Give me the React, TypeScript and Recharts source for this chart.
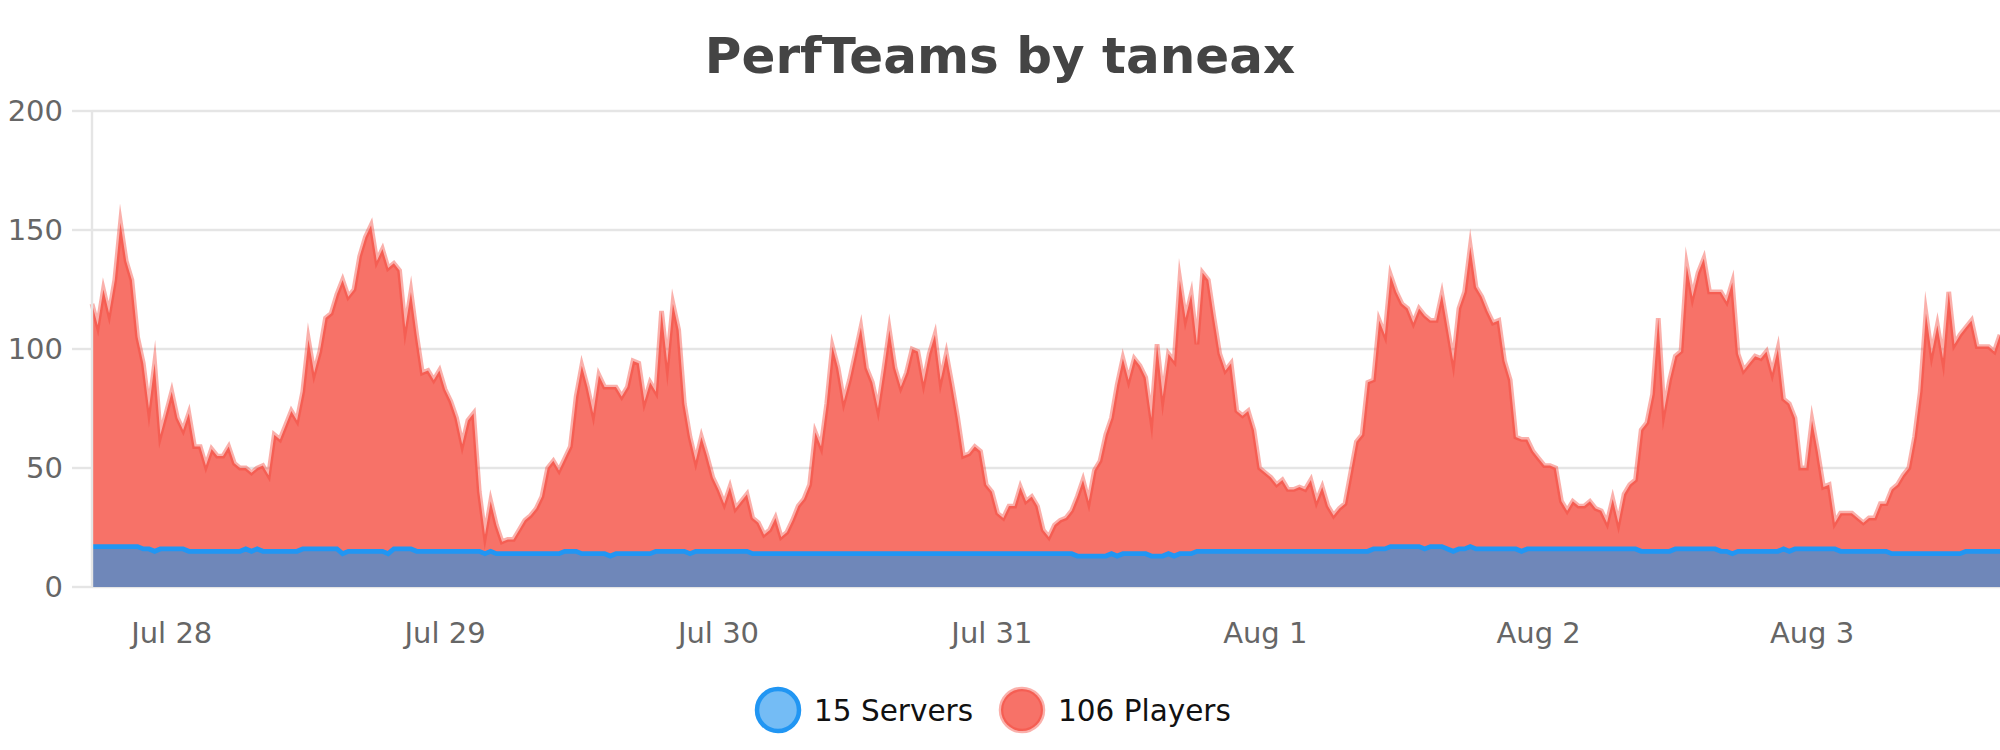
import { AreaChart, Area, XAxis, YAxis, CartesianGrid } from 'recharts';

// half-hour samples, the first one is Jul 27 17:00
const players = [
  119, 110, 125, 115, 129, 153, 137, 129, 105, 94, 75, 94,
  64, 73, 82, 71, 66, 73, 59, 59, 51, 58, 55, 55,
  59, 52, 50, 50, 48, 50, 51, 47, 64, 62, 68, 74,
  70, 82, 104, 90, 99, 113, 115, 123, 129, 122, 125, 139,
  147, 152, 137, 142, 134, 136, 133, 109, 124, 106, 90, 91,
  87, 91, 83, 78, 71, 60, 70, 73, 40, 22, 36, 26,
  19, 20, 20, 24, 28, 30, 33, 38, 50, 53, 49, 54,
  59, 80, 93, 84, 73, 89, 84, 84, 84, 80, 84, 95,
  94, 78, 86, 82, 116, 94, 119, 108, 77, 63, 53, 63,
  55, 46, 41, 35, 42, 33, 36, 39, 29, 27, 22, 24,
  29, 21, 23, 28, 34, 37, 43, 65, 59, 77, 101, 92,
  78, 87, 98, 109, 92, 86, 75, 91, 108, 92, 84, 90,
  100, 99, 86, 98, 106, 87, 98, 85, 71, 55, 56, 59,
  57, 43, 40, 31, 29, 34, 34, 42, 36, 38, 34, 24,
  21, 26, 28, 29, 32, 38, 45, 36, 49, 53, 64, 71,
  85, 96, 87, 96, 93, 88, 71, 102, 80, 98, 95, 129,
  113, 123, 102, 132, 129, 113, 98, 91, 94, 74, 72, 74,
  66, 50, 48, 46, 43, 45, 41, 41, 42, 41, 45, 36,
  42, 34, 30, 33, 35, 48, 61, 64, 86, 87, 112, 106,
  131, 124, 119, 117, 111, 117, 114, 112, 112, 123, 109, 95,
  117, 124, 143, 126, 122, 116, 111, 112, 95, 87, 63, 62,
  62, 57, 54, 51, 51, 50, 36, 32, 36, 34, 34, 36,
  33, 32, 27, 37, 27, 39, 43, 45, 66, 69, 81, 113,
  74, 87, 97, 99, 135, 122, 132, 138, 124, 124, 124, 120,
  128, 98, 91, 94, 97, 96, 99, 90, 100, 79, 77, 71,
  50, 50, 70, 57, 42, 43, 27, 31, 31, 31, 29, 27,
  29, 29, 35, 35, 41, 43, 47, 50, 63, 82, 115, 98,
  110, 96, 124, 102, 106, 109, 112, 101, 101, 101, 99, 106,
];

const servers = [
  17, 17, 17, 17, 17, 17, 17, 17, 17, 16, 16, 15,
  16, 16, 16, 16, 16, 15, 15, 15, 15, 15, 15, 15,
  15, 15, 15, 16, 15, 16, 15, 15, 15, 15, 15, 15,
  15, 16, 16, 16, 16, 16, 16, 16, 14, 15, 15, 15,
  15, 15, 15, 15, 14, 16, 16, 16, 16, 15, 15, 15,
  15, 15, 15, 15, 15, 15, 15, 15, 15, 14, 15, 14,
  14, 14, 14, 14, 14, 14, 14, 14, 14, 14, 14, 15,
  15, 15, 14, 14, 14, 14, 14, 13, 14, 14, 14, 14,
  14, 14, 14, 15, 15, 15, 15, 15, 15, 14, 15, 15,
  15, 15, 15, 15, 15, 15, 15, 15, 14, 14, 14, 14,
  14, 14, 14, 14, 14, 14, 14, 14, 14, 14, 14, 14,
  14, 14, 14, 14, 14, 14, 14, 14, 14, 14, 14, 14,
  14, 14, 14, 14, 14, 14, 14, 14, 14, 14, 14, 14,
  14, 14, 14, 14, 14, 14, 14, 14, 14, 14, 14, 14,
  14, 14, 14, 14, 14, 13, 13, 13, 13, 13, 13, 14,
  13, 14, 14, 14, 14, 14, 13, 13, 13, 14, 13, 14,
  14, 14, 15, 15, 15, 15, 15, 15, 15, 15, 15, 15,
  15, 15, 15, 15, 15, 15, 15, 15, 15, 15, 15, 15,
  15, 15, 15, 15, 15, 15, 15, 15, 15, 16, 16, 16,
  17, 17, 17, 17, 17, 17, 16, 17, 17, 17, 16, 15,
  16, 16, 17, 16, 16, 16, 16, 16, 16, 16, 16, 15,
  16, 16, 16, 16, 16, 16, 16, 16, 16, 16, 16, 16,
  16, 16, 16, 16, 16, 16, 16, 16, 15, 15, 15, 15,
  15, 15, 16, 16, 16, 16, 16, 16, 16, 16, 15, 15,
  14, 15, 15, 15, 15, 15, 15, 15, 15, 16, 15, 16,
  16, 16, 16, 16, 16, 16, 16, 15, 15, 15, 15, 15,
  15, 15, 15, 15, 14, 14, 14, 14, 14, 14, 14, 14,
  14, 14, 14, 14, 14, 15, 15, 15, 15, 15, 15, 15,
];

// sample index of each midnight
const dayTicks = [14, 62, 110, 158, 206, 254, 302];
const dayLabels = ['Jul 28', 'Jul 29', 'Jul 30', 'Jul 31', 'Aug 1', 'Aug 2', 'Aug 3'];
const yTicks = [0, 50, 100, 150, 200];

const GRID = '#e5e5e5';
const PLAYERS_FILL = '#f77268';
const PLAYERS_LINE = 'rgba(244, 67, 54, 0.42)';
const SERVERS_FILL = '#6f87b9';
const SERVERS_LINE = '#2196f3';

export default function App() {
  const data = players.map((p, i) => ({ idx: i, players: p, servers: servers[i] }));
  const last = players.length - 1;

  return (
    <div
      style={{
        position: 'absolute',
        left: 0,
        top: 0,
        width: 2000,
        height: 750,
        overflow: 'hidden',
        background: '#fff',
        fontFamily: '"DejaVu Sans", sans-serif',
      }}
    >
      <AreaChart width={2000} height={750} data={data} margin={{ top: 111, right: 0, bottom: 103, left: 0 }}>
        <CartesianGrid vertical={false} stroke={GRID} strokeWidth={2.4} />
        <XAxis
          dataKey="idx"
          type="number"
          domain={[0, last]}
          ticks={dayTicks}
          interval={0}
          tickFormatter={(v: number) => dayLabels[dayTicks.indexOf(v)]}
          height={60}
          tickSize={0}
          tickMargin={35}
          tickLine={false}
          axisLine={false}
          tick={{ fill: '#666', fontSize: 29 }}
        />
        <YAxis
          domain={[0, 200]}
          ticks={yTicks}
          interval={0}
          width={92}
          tickSize={20}
          tickMargin={9}
          tickLine={{ stroke: GRID, strokeWidth: 2.4 }}
          axisLine={{ stroke: GRID, strokeWidth: 2.4 }}
          tick={{ fill: '#666', fontSize: 29 }}
        />
        <Area
          type="linear"
          dataKey="players"
          fill={PLAYERS_FILL}
          fillOpacity={1}
          stroke={PLAYERS_LINE}
          strokeWidth={4.8}
          strokeMiterlimit={10}
          dot={false}
          activeDot={false}
          isAnimationActive={false}
        />
        <Area
          type="linear"
          dataKey="servers"
          fill={SERVERS_FILL}
          fillOpacity={1}
          stroke={SERVERS_LINE}
          strokeWidth={4.8}
          dot={false}
          activeDot={false}
          isAnimationActive={false}
        />
      </AreaChart>

      <svg
        width={2000}
        height={750}
        style={{ position: 'absolute', left: 0, top: 0, pointerEvents: 'none' }}
      >
        <text x={1000} y={73} textAnchor="middle" fontSize={50} fontWeight="bold" fill="#444">
          PerfTeams by taneax
        </text>
        <circle cx={778} cy={710} r={21} fill="#74bcf5" stroke={SERVERS_LINE} strokeWidth={4.5} />
        <text x={814} y={721} fontSize={29.5} fill="#111">
          {`${servers[last]} Servers`}
        </text>
        <circle cx={1022} cy={710} r={21} fill={PLAYERS_FILL} stroke={PLAYERS_LINE} strokeWidth={4.5} />
        <text x={1058} y={721} fontSize={29.5} fill="#111">
          {`${players[last]} Players`}
        </text>
      </svg>
    </div>
  );
}
